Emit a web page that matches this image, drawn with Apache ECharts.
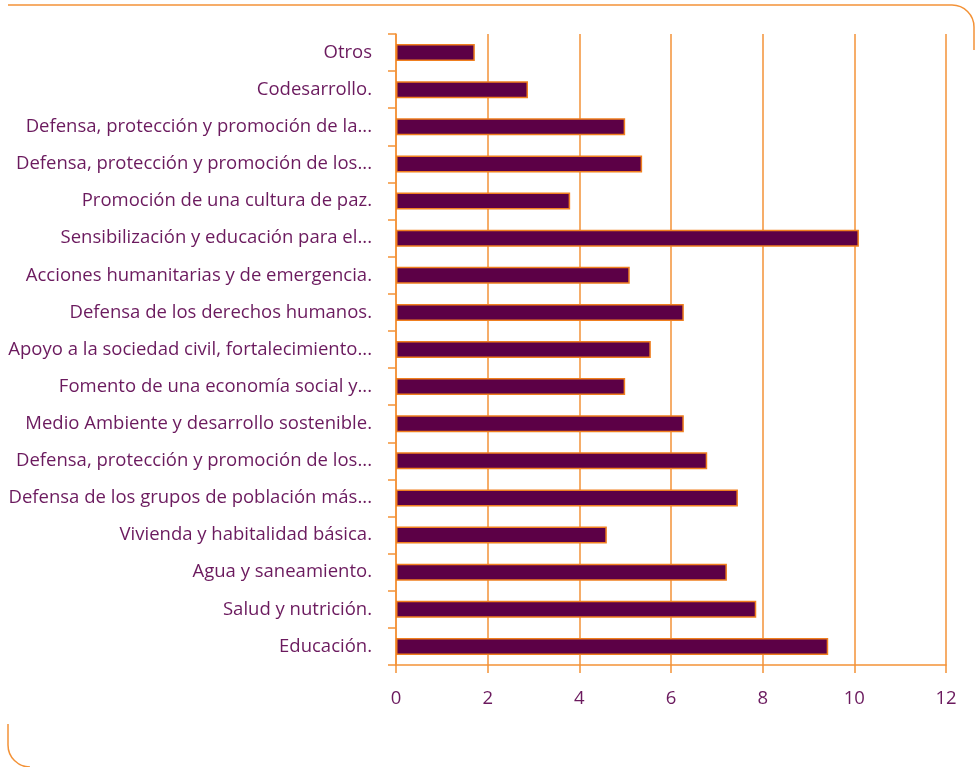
<!DOCTYPE html>
<html><head><meta charset="utf-8">
<script src="https://cdn.jsdelivr.net/npm/echarts@6/dist/echarts.min.js"></script>
<style>html,body{margin:0;padding:0;background:#fff}#c{width:975px;height:767px}</style>
</head><body><div id="c"></div>
<script>
const categories = [
  "Otros",
  "Codesarrollo.",
  "Defensa, protección y promoción de la...",
  "Defensa, protección y promoción de los...",
  "Promoción de una cultura de paz.",
  "Sensibilización y educación para el...",
  "Acciones humanitarias y de emergencia.",
  "Defensa de los derechos humanos.",
  "Apoyo a la sociedad civil, fortalecimiento...",
  "Fomento de una economía social y...",
  "Medio Ambiente y desarrollo sostenible.",
  "Defensa, protección y promoción de los...",
  "Defensa de los grupos de población más...",
  "Vivienda y habitalidad básica.",
  "Agua y saneamiento.",
  "Salud y nutrición.",
  "Educación."
];
const values = [1.72, 2.88, 5.0, 5.37, 3.8, 10.1, 5.1, 6.28, 5.56, 5.0, 6.28, 6.79, 7.46, 4.6, 7.22, 7.86, 9.43];
const xTicks = [0, 2, 4, 6, 8, 10, 12];

const orange = '#f39237';
const purple = '#6b1a5e';
const chart = echarts.init(document.getElementById('c'));
const frameStyle = { stroke: orange, lineWidth: 1.5, fill: null };
chart.setOption({
  animation: false,
  textStyle: { fontFamily: 'Open Sans' },
  grid: { left: 396, right: 29, top: 34, bottom: 102, containLabel: false },
  xAxis: {
    type: 'value', min: xTicks[0], max: xTicks[xTicks.length - 1], interval: 2,
    axisLine: { show: true, lineStyle: { color: orange, width: 1.5 } },
    axisTick: { show: true, length: 8, lineStyle: { color: orange, width: 1.5 } },
    axisLabel: { color: purple, fontSize: 18.5, margin: 24, fontFamily: 'Open Sans' },
    splitLine: { show: true, lineStyle: { color: orange, width: 1.5 } }
  },
  yAxis: {
    type: 'category', data: categories, inverse: true,
    axisLine: { show: true, lineStyle: { color: orange, width: 1.5 } },
    axisTick: { show: true, length: 8, lineStyle: { color: orange, width: 1.5 } },
    axisLabel: { color: purple, fontSize: 18.5, margin: 24, fontFamily: 'Open Sans' }
  },
  series: [{
    type: 'bar', data: values, barWidth: 17,
    itemStyle: { color: '#5c0046', borderColor: '#f07f1f', borderWidth: 1.5 }
  }],
  graphic: [
    { type: 'line', shape: { x1: 8, y1: 5, x2: 952, y2: 5 }, style: frameStyle },
    { type: 'arc', shape: { cx: 952, cy: 27, r: 22, startAngle: -Math.PI / 2, endAngle: 0, clockwise: true }, style: frameStyle },
    { type: 'line', shape: { x1: 974, y1: 27, x2: 974, y2: 50 }, style: frameStyle },
    { type: 'line', shape: { x1: 8, y1: 724, x2: 8, y2: 745 }, style: frameStyle },
    { type: 'arc', shape: { cx: 30, cy: 745, r: 22, startAngle: Math.PI / 2, endAngle: Math.PI, clockwise: true }, style: frameStyle }
  ]
});
</script></body></html>
